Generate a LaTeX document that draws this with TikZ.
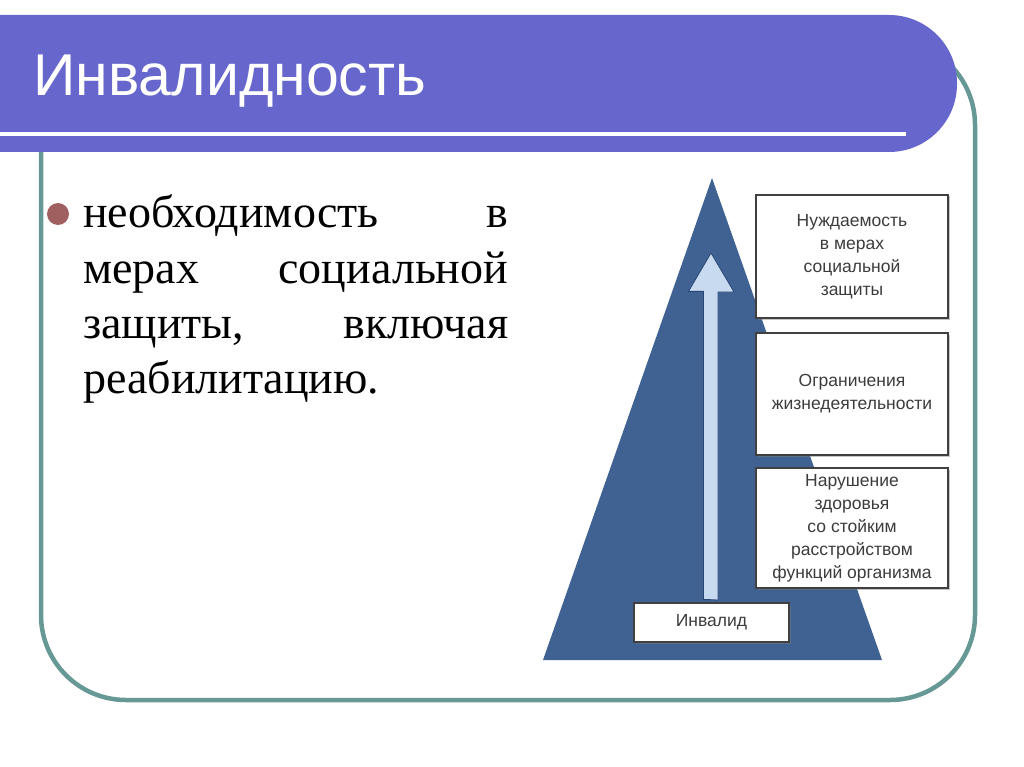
\documentclass[tikz,border=0pt]{standalone}
\usepackage{fontspec}
\setmainfont{Liberation Serif}
\newfontfamily\sansf{Liberation Sans}
\newfontfamily\bodyf{Liberation Serif}
\usetikzlibrary{shadows}
\definecolor{hdr}{RGB}{102,102,204}
\definecolor{framec}{RGB}{102,153,150}
\definecolor{bul}{RGB}{160,96,96}
\definecolor{pyr}{RGB}{63,98,146}
\definecolor{arrowfill}{RGB}{200,218,240}
\definecolor{arrowline}{RGB}{40,70,115}
\definecolor{boxtext}{RGB}{60,60,60}
\begin{document}
\begin{tikzpicture}[x=1pt,y=-1pt,
  box/.style={draw=black!75, line width=1.3pt, fill=white, inner sep=0pt,
    drop shadow={shadow xshift=1.5pt, shadow yshift=-1.5pt, opacity=0.45},
    font=\sansf\fontsize{17.5}{23}\selectfont, text=boxtext, align=center},
  bodyline/.style={anchor=base west, inner sep=0pt, font=\bodyf\fontsize{46}{46}\selectfont},
]
\useasboundingbox (0,0) rectangle (1024,767);
\fill[white] (0,0) rectangle (1024,767);
% slide frame
\draw[framec, line width=4.5pt, rounded corners=85pt] (41,40) rectangle (975,700);
% header
\begin{scope}
\clip (0,0) rectangle (1024,767);
\fill[hdr, rounded corners=68pt] (-200,15) rectangle (957,152);
\end{scope}
\draw[white, line width=4pt] (0,134) -- (906,134);
\node[anchor=base west, inner sep=0pt, text=white, font=\sansf\fontsize{59}{62}\selectfont] (title) at (33,96) {Инвалидность};
% bullet text
\fill[bul] (58,214) circle (11pt);
\node[bodyline] (l1) at (83,228) {\hbox to 425pt{необходимость\hfill в}};
\node[bodyline] (l2) at (83,283) {\hbox to 425pt{мерах\hfill социальной}};
\node[bodyline] (l3) at (83,338) {\hbox to 425pt{защиты,\hfill включая}};
\node[bodyline] (l4) at (83,393) {реабилитацию.};
% pyramid
\fill[pyr] (712,178) -- (882,660) -- (543,660) -- cycle;
% boxes
\node[box, minimum width=192pt, minimum height=123pt] (b1) at (852,256.5) {Нуждаемость\\в мерах\\социальной\\защиты};
\node[box, minimum width=192pt, minimum height=122pt] (b2) at (852,394) {Ограничения\\жизнедеятельности};
\node[box, minimum width=192pt, minimum height=120pt] (b3) at (852,528) {Нарушение\\здоровья\\со стойким\\расстройством\\функций организма};
\node[box, minimum width=155pt, minimum height=39pt] (inv) at (711.5,622.5) {Инвалид};
% block arrow
\coordinate (tip) at (711,253);
\draw[arrowline, fill=arrowfill, line width=0.8pt]
  ([xshift=-7.5pt,yshift=3pt]inv.north -| tip) -- ++(0,-308) -- ++(-15,0) -- (tip) -- ++(23,39) -- ++(-16,0) -- ++(0,308) -- cycle;
\end{tikzpicture}
\end{document}
